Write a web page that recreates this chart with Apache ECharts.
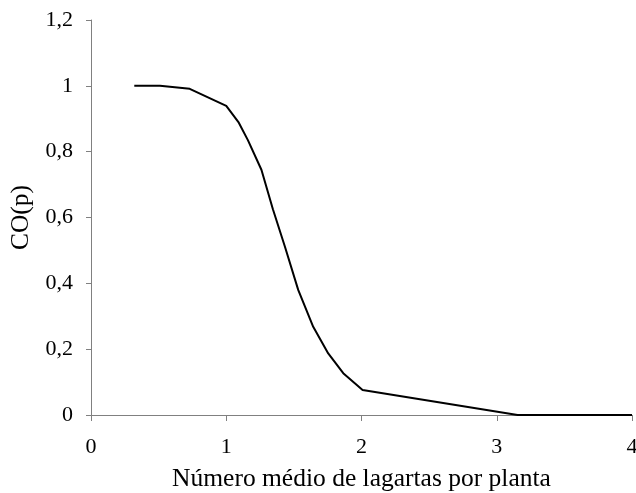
<!DOCTYPE html>
<html><head><meta charset="utf-8">
<script src="https://cdn.jsdelivr.net/npm/echarts@6/dist/echarts.min.js"></script>
<style>html,body{margin:0;padding:0;background:#fff}#c{width:636px;height:493px}</style>
</head><body><div id="c"></div>
<script>
const xValues = [0.32, 0.51, 0.73, 1.0, 1.09, 1.16, 1.26, 1.345, 1.434, 1.532, 1.643, 1.754, 1.865, 2.008, 3.154, 4.0];
const yValues = [1.0, 1.0, 0.991, 0.939, 0.89, 0.835, 0.745, 0.625, 0.511, 0.38, 0.268, 0.187, 0.127, 0.076, 0.0, 0.0];
const xTicks = [0, 1, 2, 3, 4];
const yTicks = [0, 0.2, 0.4, 0.6, 0.8, 1, 1.2];
const xTitle = 'Número médio de lagartas por planta';
const yTitle = 'CO(p)';

const font = '"Liberation Serif", "DejaVu Serif", serif';
const chart = echarts.init(document.getElementById('c'), null, {renderer: 'canvas'});
chart.setOption({
  animation: false,
  backgroundColor: '#fff',
  grid: {left: 91, right: 4, top: 20, bottom: 78, containLabel: false, outerBoundsMode: 'none'},
  xAxis: {
    type: 'value', min: xTicks[0], max: xTicks[xTicks.length - 1], interval: 1,
    name: xTitle, nameLocation: 'middle', nameGap: 51,
    nameTextStyle: {fontFamily: font, fontSize: 25.5, color: '#000'},
    axisLine: {show: true, lineStyle: {color: '#808080', width: 1}},
    axisTick: {show: true, length: 6, inside: false, lineStyle: {color: '#808080'}},
    axisLabel: {fontFamily: font, fontSize: 22, color: '#000', margin: 21.5},
    splitLine: {show: false}
  },
  yAxis: {
    type: 'value', min: yTicks[0], max: yTicks[yTicks.length - 1], interval: 0.2,
    name: yTitle, nameLocation: 'middle', nameGap: 54, nameRotate: 90,
    nameTextStyle: {fontFamily: font, fontSize: 25.5, color: '#000'},
    axisLine: {show: true, lineStyle: {color: '#808080', width: 1}},
    axisTick: {show: true, length: 5, inside: false, lineStyle: {color: '#808080'}},
    axisLabel: {fontFamily: font, fontSize: 22, color: '#000', margin: 18,
      formatter: v => String(Math.round(v * 10) / 10).replace('.', ',')},
    splitLine: {show: false}
  },
  series: [{
    type: 'line',
    data: xValues.map((x, i) => [x, yValues[i]]),
    showSymbol: false,
    smooth: false,
    lineStyle: {color: '#000', width: 2},
    clip: false
  }]
});
</script></body></html>
